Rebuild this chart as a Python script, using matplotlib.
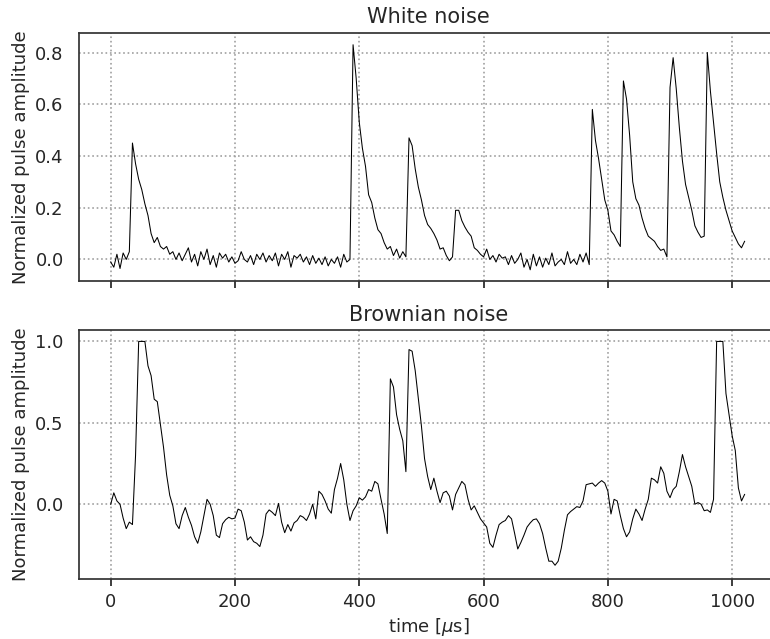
import numpy as np
import matplotlib
matplotlib.use("Agg")
import matplotlib.pyplot as plt

white = [
    -0.01, -0.03, 0.02, -0.035, 0.025, 0.0, 0.03, 0.45, 0.37, 0.31,
    0.27, 0.215, 0.17, 0.10, 0.065, 0.085, 0.05, 0.04, 0.05, 0.02,
    0.03, 0.0, 0.025, -0.005, 0.02, 0.045, -0.01, 0.02, -0.025, 0.03,
    0.0, 0.04, -0.02, 0.015, -0.03, 0.025, 0.005, 0.02, -0.01, 0.01,
    -0.015, -0.005, 0.03, 0.0, -0.01, 0.015, -0.02, 0.02, 0.0, 0.025,
    -0.01, 0.015, -0.005, 0.025, -0.025, 0.02, 0.0, 0.03, -0.03, 0.015,
    0.005, 0.02, -0.01, 0.01, -0.02, 0.015, -0.015, 0.005, -0.02, 0.01,
    -0.025, 0.0, -0.015, 0.01, -0.03, 0.02, -0.01, 0.0, 0.83, 0.70,
    0.53, 0.43, 0.36, 0.25, 0.22, 0.16, 0.115, 0.10, 0.065, 0.04,
    0.05, 0.015, 0.04, 0.005, 0.03, 0.01, 0.47, 0.44, 0.35, 0.28,
    0.23, 0.17, 0.135, 0.12, 0.10, 0.075, 0.04, 0.045, 0.015, -0.005,
    0.01, 0.19, 0.19, 0.15, 0.125, 0.105, 0.09, 0.045, 0.035, 0.02,
    0.01, 0.04, 0.0, 0.015, -0.01, 0.02, 0.005, 0.01, -0.02, 0.015,
    -0.015, 0.0, 0.025, -0.03, 0.0, -0.04, 0.02, -0.025, 0.01, -0.03,
    0.005, -0.02, 0.025, -0.025, -0.01, 0.0, -0.02, 0.03, -0.015, 0.0,
    -0.02, 0.02, -0.01, 0.025, -0.02, 0.58, 0.46, 0.39, 0.31, 0.23,
    0.19, 0.11, 0.095, 0.07, 0.05, 0.69, 0.62, 0.48, 0.30, 0.235,
    0.21, 0.16, 0.12, 0.09, 0.08, 0.07, 0.05, 0.035, 0.04, 0.01,
    0.665, 0.78, 0.66, 0.51, 0.38, 0.29, 0.24, 0.19, 0.13, 0.105,
    0.085, 0.09, 0.80, 0.65, 0.53, 0.41, 0.30, 0.24, 0.19, 0.15,
    0.11, 0.085, 0.06, 0.045, 0.07,
]

brown = [
    0.0, 0.07, 0.02, 0.0, -0.085, -0.15, -0.11, -0.125, 0.3, 1.0,
    1.0, 1.0, 0.85, 0.79, 0.645, 0.63, 0.49, 0.35, 0.18, 0.055,
    -0.01, -0.12, -0.15, -0.07, -0.02, -0.08, -0.13, -0.2, -0.24, -0.17,
    -0.07, 0.03, 0.0, -0.07, -0.19, -0.205, -0.12, -0.095, -0.08, -0.09,
    -0.085, -0.03, -0.04, -0.11, -0.22, -0.2, -0.23, -0.24, -0.26, -0.19,
    -0.06, -0.035, -0.05, -0.07, 0.005, -0.11, -0.175, -0.125, -0.165, -0.115,
    -0.1, -0.07, -0.08, -0.1, -0.06, 0.0, -0.09, 0.08, 0.06, 0.02,
    -0.03, -0.055, 0.09, 0.16, 0.25, 0.15, 0.0, -0.1, -0.04, -0.01,
    0.04, 0.025, 0.045, 0.09, 0.08, 0.14, 0.125, 0.03, -0.06, -0.18,
    0.77, 0.72, 0.55, 0.46, 0.39, 0.2, 0.95, 0.94, 0.82, 0.65,
    0.48, 0.28, 0.17, 0.09, 0.16, 0.08, 0.01, 0.07, 0.08, 0.05,
    -0.035, 0.06, 0.1, 0.14, 0.12, 0.03, -0.035, -0.01, -0.05, -0.09,
    -0.115, -0.14, -0.24, -0.265, -0.19, -0.125, -0.11, -0.1, -0.07, -0.09,
    -0.18, -0.275, -0.235, -0.19, -0.14, -0.115, -0.095, -0.09, -0.12, -0.18,
    -0.27, -0.35, -0.35, -0.375, -0.35, -0.27, -0.16, -0.065, -0.045, -0.03,
    -0.015, -0.02, 0.02, 0.12, 0.125, 0.13, 0.11, 0.13, 0.145, 0.13,
    0.08, -0.06, 0.03, 0.02, -0.07, -0.15, -0.2, -0.17, -0.09, -0.03,
    -0.06, -0.1, -0.03, 0.03, 0.16, 0.15, 0.13, 0.23, 0.19, 0.08,
    0.04, 0.09, 0.11, 0.2, 0.305, 0.23, 0.17, 0.11, 0.0, 0.01,
    0.0, -0.04, -0.035, -0.05, 0.03, 1.0, 1.0, 1.0, 0.68, 0.55,
    0.42, 0.33, 0.1, 0.02, 0.06,
]

dt = 5.0
t_white = np.arange(len(white)) * dt
t_brown = np.arange(len(brown)) * dt

xticks = [0, 200, 400, 600, 800, 1000]
yticks_white = [0.0, 0.2, 0.4, 0.6, 0.8]
yticks_brown = [0.0, 0.5, 1.0]

txt = "#262626"
plt.rcParams["font.family"] = "DejaVu Sans"
plt.rcParams["text.color"] = txt
plt.rcParams["axes.labelcolor"] = txt
plt.rcParams["xtick.color"] = txt
plt.rcParams["ytick.color"] = txt

fig = plt.figure(figsize=(7.7, 6.39), dpi=100)
# axes run a bit past the right edge, like the cropped original
ax1 = fig.add_axes([0.1026, 0.560, 0.908, 0.389])
ax2 = fig.add_axes([0.1026, 0.094, 0.908, 0.389], sharex=ax1)

panels = [
    (ax1, t_white, white, "White noise", yticks_white, (-0.084, 0.877)),
    (ax2, t_brown, brown, "Brownian noise", yticks_brown, (-0.459, 1.068)),
]
for ax, t, v, title, yt, ylim in panels:
    ax.plot(t, v, color="black", lw=0.75)
    ax.set_title(title, fontsize=15, pad=7)
    ax.set_ylabel("Normalized pulse amplitude", fontsize=13)
    ax.set_yticks(yt)
    ax.set_ylim(*ylim)
    ax.grid(True, linestyle=":", color="#a0a0a0", lw=1.2)
    for s in ax.spines.values():
        s.set_color("#333333")
        s.set_linewidth(1.25)
    ax.tick_params(axis="y", length=0, pad=11, labelsize=13)
    ax.tick_params(axis="x", length=5, width=1.25, pad=5, labelsize=13)

ax1.set_xticks(xticks)
ax1.set_xlim(-51, 1074)
ax1.tick_params(axis="x", labelbottom=False)
ax2.set_xlabel(r"time [$\mu$s]", fontsize=13)

fig.savefig("out.png", dpi=100)
